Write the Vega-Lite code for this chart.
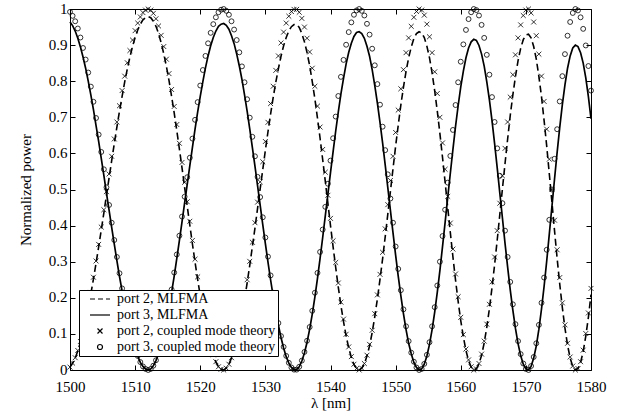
{
"$schema":"https://vega.github.io/schema/vega-lite/v6.json",
"width":521,"height":361,
"autosize":{"type":"none"},
"padding":{"left":70,"top":9,"right":33,"bottom":45},
"background":"white",
"config":{
"view":{"stroke":"black","strokeWidth":1},
"axis":{"domain":false,"grid":false,"tickColor":"black","tickSize":-5,"tickWidth":1,"labelFont":"Liberation Serif","labelFontSize":15,"labelColor":"black","titleFont":"Liberation Serif","titleFontSize":15,"titleFontWeight":"normal","titleColor":"black","labelFlush":false,"labelOverlap":false},
"legend":{"symbolSize":25,"symbolStrokeWidth":1.2,"labelFont":"Liberation Serif","labelFontSize":14,"labelColor":"black","fillColor":"white","strokeColor":"black","padding":2,"symbolOffset":12,"labelOffset":10,"labelLimit":400,"rowPadding":2}
},
"data":{"values":[
{"nm":1500.0,"m2":0.008,"m3":0.964,"c2":0.008,"c3":0.992},
{"nm":1500.4,"m2":0.019,"m3":0.954,"c2":0.019,"c3":0.981},
{"nm":1500.8,"m2":0.033,"m3":0.939,"c2":0.034,"c3":0.966},
{"nm":1501.2,"m2":0.053,"m3":0.919,"c2":0.054,"c3":0.946},
{"nm":1501.6,"m2":0.077,"m3":0.895,"c2":0.079,"c3":0.921},
{"nm":1502.0,"m2":0.106,"m3":0.867,"c2":0.108,"c3":0.892},
{"nm":1502.4,"m2":0.137,"m3":0.836,"c2":0.140,"c3":0.860},
{"nm":1502.8,"m2":0.172,"m3":0.800,"c2":0.176,"c3":0.824},
{"nm":1503.2,"m2":0.211,"m3":0.762,"c2":0.215,"c3":0.785},
{"nm":1503.6,"m2":0.252,"m3":0.721,"c2":0.257,"c3":0.743},
{"nm":1504.0,"m2":0.296,"m3":0.677,"c2":0.302,"c3":0.698},
{"nm":1504.4,"m2":0.341,"m3":0.633,"c2":0.348,"c3":0.652},
{"nm":1504.8,"m2":0.388,"m3":0.586,"c2":0.396,"c3":0.604},
{"nm":1505.2,"m2":0.435,"m3":0.539,"c2":0.444,"c3":0.556},
{"nm":1505.6,"m2":0.484,"m3":0.490,"c2":0.494,"c3":0.506},
{"nm":1506.0,"m2":0.532,"m3":0.443,"c2":0.543,"c3":0.457},
{"nm":1506.4,"m2":0.580,"m3":0.395,"c2":0.592,"c3":0.408},
{"nm":1506.8,"m2":0.627,"m3":0.349,"c2":0.640,"c3":0.360},
{"nm":1507.2,"m2":0.673,"m3":0.303,"c2":0.687,"c3":0.313},
{"nm":1507.6,"m2":0.717,"m3":0.259,"c2":0.732,"c3":0.268},
{"nm":1508.0,"m2":0.758,"m3":0.219,"c2":0.774,"c3":0.226},
{"nm":1508.4,"m2":0.798,"m3":0.180,"c2":0.814,"c3":0.186},
{"nm":1508.8,"m2":0.834,"m3":0.144,"c2":0.851,"c3":0.149},
{"nm":1509.2,"m2":0.867,"m3":0.111,"c2":0.885,"c3":0.115},
{"nm":1509.6,"m2":0.896,"m3":0.083,"c2":0.914,"c3":0.086},
{"nm":1510.0,"m2":0.921,"m3":0.058,"c2":0.940,"c3":0.060},
{"nm":1510.4,"m2":0.942,"m3":0.038,"c2":0.961,"c3":0.039},
{"nm":1510.8,"m2":0.958,"m3":0.021,"c2":0.978,"c3":0.022},
{"nm":1511.2,"m2":0.970,"m3":0.010,"c2":0.990,"c3":0.010},
{"nm":1511.6,"m2":0.976,"m3":0.003,"c2":0.997,"c3":0.003},
{"nm":1512.0,"m2":0.979,"m3":0.000,"c2":1.000,"c3":0.000},
{"nm":1512.4,"m2":0.976,"m3":0.003,"c2":0.997,"c3":0.003},
{"nm":1512.8,"m2":0.966,"m3":0.012,"c2":0.988,"c3":0.012},
{"nm":1513.2,"m2":0.952,"m3":0.026,"c2":0.973,"c3":0.027},
{"nm":1513.6,"m2":0.932,"m3":0.045,"c2":0.953,"c3":0.047},
{"nm":1514.0,"m2":0.906,"m3":0.070,"c2":0.927,"c3":0.073},
{"nm":1514.4,"m2":0.876,"m3":0.100,"c2":0.896,"c3":0.104},
{"nm":1514.8,"m2":0.841,"m3":0.134,"c2":0.861,"c3":0.139},
{"nm":1515.2,"m2":0.802,"m3":0.173,"c2":0.821,"c3":0.179},
{"nm":1515.6,"m2":0.758,"m3":0.215,"c2":0.777,"c3":0.223},
{"nm":1516.0,"m2":0.712,"m3":0.260,"c2":0.730,"c3":0.270},
{"nm":1516.4,"m2":0.663,"m3":0.309,"c2":0.680,"c3":0.320},
{"nm":1516.8,"m2":0.612,"m3":0.359,"c2":0.628,"c3":0.372},
{"nm":1517.2,"m2":0.560,"m3":0.410,"c2":0.575,"c3":0.425},
{"nm":1517.6,"m2":0.506,"m3":0.463,"c2":0.520,"c3":0.480},
{"nm":1518.0,"m2":0.454,"m3":0.514,"c2":0.466,"c3":0.534},
{"nm":1518.4,"m2":0.401,"m3":0.566,"c2":0.412,"c3":0.588},
{"nm":1518.8,"m2":0.349,"m3":0.617,"c2":0.359,"c3":0.641},
{"nm":1519.2,"m2":0.299,"m3":0.667,"c2":0.307,"c3":0.693},
{"nm":1519.6,"m2":0.251,"m3":0.714,"c2":0.258,"c3":0.742},
{"nm":1520.0,"m2":0.206,"m3":0.758,"c2":0.212,"c3":0.788},
{"nm":1520.4,"m2":0.164,"m3":0.799,"c2":0.169,"c3":0.831},
{"nm":1520.8,"m2":0.126,"m3":0.837,"c2":0.130,"c3":0.870},
{"nm":1521.2,"m2":0.092,"m3":0.870,"c2":0.095,"c3":0.905},
{"nm":1521.6,"m2":0.064,"m3":0.898,"c2":0.066,"c3":0.934},
{"nm":1522.0,"m2":0.041,"m3":0.921,"c2":0.042,"c3":0.958},
{"nm":1522.4,"m2":0.022,"m3":0.939,"c2":0.023,"c3":0.977},
{"nm":1522.8,"m2":0.009,"m3":0.952,"c2":0.009,"c3":0.991},
{"nm":1523.2,"m2":0.002,"m3":0.958,"c2":0.002,"c3":0.998},
{"nm":1523.6,"m2":0.000,"m3":0.960,"c2":0.000,"c3":1.000},
{"nm":1524.0,"m2":0.005,"m3":0.955,"c2":0.005,"c3":0.995},
{"nm":1524.4,"m2":0.016,"m3":0.944,"c2":0.016,"c3":0.984},
{"nm":1524.8,"m2":0.033,"m3":0.926,"c2":0.034,"c3":0.966},
{"nm":1525.2,"m2":0.055,"m3":0.904,"c2":0.057,"c3":0.943},
{"nm":1525.6,"m2":0.083,"m3":0.875,"c2":0.086,"c3":0.914},
{"nm":1526.0,"m2":0.116,"m3":0.842,"c2":0.120,"c3":0.880},
{"nm":1526.4,"m2":0.154,"m3":0.805,"c2":0.159,"c3":0.841},
{"nm":1526.8,"m2":0.196,"m3":0.762,"c2":0.203,"c3":0.797},
{"nm":1527.2,"m2":0.241,"m3":0.717,"c2":0.250,"c3":0.750},
{"nm":1527.6,"m2":0.290,"m3":0.668,"c2":0.301,"c3":0.699},
{"nm":1528.0,"m2":0.341,"m3":0.617,"c2":0.354,"c3":0.646},
{"nm":1528.4,"m2":0.393,"m3":0.565,"c2":0.408,"c3":0.592},
{"nm":1528.8,"m2":0.448,"m3":0.511,"c2":0.465,"c3":0.535},
{"nm":1529.2,"m2":0.502,"m3":0.457,"c2":0.521,"c3":0.479},
{"nm":1529.6,"m2":0.555,"m3":0.403,"c2":0.577,"c3":0.423},
{"nm":1530.0,"m2":0.609,"m3":0.350,"c2":0.633,"c3":0.367},
{"nm":1530.4,"m2":0.660,"m3":0.299,"c2":0.686,"c3":0.314},
{"nm":1530.8,"m2":0.709,"m3":0.250,"c2":0.738,"c3":0.262},
{"nm":1531.2,"m2":0.755,"m3":0.204,"c2":0.786,"c3":0.214},
{"nm":1531.6,"m2":0.797,"m3":0.162,"c2":0.830,"c3":0.170},
{"nm":1532.0,"m2":0.835,"m3":0.124,"c2":0.870,"c3":0.130},
{"nm":1532.4,"m2":0.869,"m3":0.090,"c2":0.906,"c3":0.094},
{"nm":1532.8,"m2":0.898,"m3":0.061,"c2":0.936,"c3":0.064},
{"nm":1533.2,"m2":0.921,"m3":0.037,"c2":0.961,"c3":0.039},
{"nm":1533.6,"m2":0.939,"m3":0.019,"c2":0.980,"c3":0.020},
{"nm":1534.0,"m2":0.951,"m3":0.007,"c2":0.993,"c3":0.007},
{"nm":1534.4,"m2":0.957,"m3":0.001,"c2":0.999,"c3":0.001},
{"nm":1534.8,"m2":0.957,"m3":0.001,"c2":0.999,"c3":0.001},
{"nm":1535.2,"m2":0.949,"m3":0.009,"c2":0.991,"c3":0.009},
{"nm":1535.6,"m2":0.932,"m3":0.025,"c2":0.974,"c3":0.026},
{"nm":1536.0,"m2":0.909,"m3":0.047,"c2":0.950,"c3":0.050},
{"nm":1536.4,"m2":0.879,"m3":0.077,"c2":0.919,"c3":0.081},
{"nm":1536.8,"m2":0.843,"m3":0.113,"c2":0.881,"c3":0.119},
{"nm":1537.2,"m2":0.799,"m3":0.155,"c2":0.836,"c3":0.164},
{"nm":1537.6,"m2":0.751,"m3":0.202,"c2":0.786,"c3":0.214},
{"nm":1538.0,"m2":0.698,"m3":0.254,"c2":0.731,"c3":0.269},
{"nm":1538.4,"m2":0.642,"m3":0.309,"c2":0.673,"c3":0.327},
{"nm":1538.8,"m2":0.583,"m3":0.367,"c2":0.611,"c3":0.389},
{"nm":1539.2,"m2":0.523,"m3":0.427,"c2":0.548,"c3":0.452},
{"nm":1539.6,"m2":0.462,"m3":0.487,"c2":0.484,"c3":0.516},
{"nm":1540.0,"m2":0.400,"m3":0.547,"c2":0.420,"c3":0.580},
{"nm":1540.4,"m2":0.341,"m3":0.605,"c2":0.358,"c3":0.642},
{"nm":1540.8,"m2":0.284,"m3":0.662,"c2":0.298,"c3":0.702},
{"nm":1541.2,"m2":0.229,"m3":0.715,"c2":0.241,"c3":0.759},
{"nm":1541.6,"m2":0.179,"m3":0.765,"c2":0.188,"c3":0.812},
{"nm":1542.0,"m2":0.134,"m3":0.808,"c2":0.141,"c3":0.859},
{"nm":1542.4,"m2":0.094,"m3":0.848,"c2":0.099,"c3":0.901},
{"nm":1542.8,"m2":0.061,"m3":0.880,"c2":0.064,"c3":0.936},
{"nm":1543.2,"m2":0.035,"m3":0.905,"c2":0.037,"c3":0.963},
{"nm":1543.6,"m2":0.015,"m3":0.924,"c2":0.016,"c3":0.984},
{"nm":1544.0,"m2":0.004,"m3":0.935,"c2":0.004,"c3":0.996},
{"nm":1544.4,"m2":0.000,"m3":0.937,"c2":0.000,"c3":1.000},
{"nm":1544.8,"m2":0.005,"m3":0.932,"c2":0.005,"c3":0.995},
{"nm":1545.2,"m2":0.017,"m3":0.919,"c2":0.018,"c3":0.982},
{"nm":1545.6,"m2":0.039,"m3":0.897,"c2":0.041,"c3":0.959},
{"nm":1546.0,"m2":0.067,"m3":0.869,"c2":0.071,"c3":0.929},
{"nm":1546.4,"m2":0.104,"m3":0.832,"c2":0.110,"c3":0.890},
{"nm":1546.8,"m2":0.148,"m3":0.788,"c2":0.156,"c3":0.844},
{"nm":1547.2,"m2":0.197,"m3":0.739,"c2":0.208,"c3":0.792},
{"nm":1547.6,"m2":0.251,"m3":0.686,"c2":0.265,"c3":0.735},
{"nm":1548.0,"m2":0.308,"m3":0.629,"c2":0.326,"c3":0.674},
{"nm":1548.4,"m2":0.369,"m3":0.568,"c2":0.391,"c3":0.609},
{"nm":1548.8,"m2":0.432,"m3":0.505,"c2":0.458,"c3":0.542},
{"nm":1549.2,"m2":0.495,"m3":0.442,"c2":0.525,"c3":0.475},
{"nm":1549.6,"m2":0.558,"m3":0.380,"c2":0.592,"c3":0.408},
{"nm":1550.0,"m2":0.620,"m3":0.318,"c2":0.658,"c3":0.342},
{"nm":1550.4,"m2":0.678,"m3":0.260,"c2":0.720,"c3":0.280},
{"nm":1550.8,"m2":0.734,"m3":0.206,"c2":0.779,"c3":0.221},
{"nm":1551.2,"m2":0.783,"m3":0.156,"c2":0.832,"c3":0.168},
{"nm":1551.6,"m2":0.827,"m3":0.112,"c2":0.879,"c3":0.121},
{"nm":1552.0,"m2":0.865,"m3":0.074,"c2":0.920,"c3":0.080},
{"nm":1552.4,"m2":0.895,"m3":0.045,"c2":0.952,"c3":0.048},
{"nm":1552.8,"m2":0.918,"m3":0.021,"c2":0.977,"c3":0.023},
{"nm":1553.2,"m2":0.932,"m3":0.007,"c2":0.993,"c3":0.007},
{"nm":1553.6,"m2":0.937,"m3":0.000,"c2":1.000,"c3":0.000},
{"nm":1554.0,"m2":0.934,"m3":0.003,"c2":0.997,"c3":0.003},
{"nm":1554.4,"m2":0.921,"m3":0.016,"c2":0.983,"c3":0.017},
{"nm":1554.8,"m2":0.897,"m3":0.039,"c2":0.958,"c3":0.042},
{"nm":1555.2,"m2":0.865,"m3":0.071,"c2":0.923,"c3":0.077},
{"nm":1555.6,"m2":0.823,"m3":0.112,"c2":0.879,"c3":0.121},
{"nm":1556.0,"m2":0.773,"m3":0.160,"c2":0.826,"c3":0.174},
{"nm":1556.4,"m2":0.717,"m3":0.216,"c2":0.766,"c3":0.234},
{"nm":1556.8,"m2":0.655,"m3":0.276,"c2":0.700,"c3":0.300},
{"nm":1557.2,"m2":0.589,"m3":0.342,"c2":0.629,"c3":0.371},
{"nm":1557.6,"m2":0.520,"m3":0.409,"c2":0.556,"c3":0.444},
{"nm":1558.0,"m2":0.450,"m3":0.478,"c2":0.481,"c3":0.519},
{"nm":1558.4,"m2":0.381,"m3":0.545,"c2":0.407,"c3":0.593},
{"nm":1558.8,"m2":0.313,"m3":0.611,"c2":0.335,"c3":0.665},
{"nm":1559.2,"m2":0.249,"m3":0.675,"c2":0.266,"c3":0.734},
{"nm":1559.6,"m2":0.190,"m3":0.732,"c2":0.203,"c3":0.797},
{"nm":1560.0,"m2":0.137,"m3":0.784,"c2":0.146,"c3":0.854},
{"nm":1560.4,"m2":0.092,"m3":0.828,"c2":0.098,"c3":0.902},
{"nm":1560.8,"m2":0.054,"m3":0.865,"c2":0.058,"c3":0.942},
{"nm":1561.2,"m2":0.026,"m3":0.892,"c2":0.028,"c3":0.972},
{"nm":1561.6,"m2":0.008,"m3":0.909,"c2":0.009,"c3":0.991},
{"nm":1562.0,"m2":0.000,"m3":0.916,"c2":0.000,"c3":1.000},
{"nm":1562.4,"m2":0.003,"m3":0.913,"c2":0.003,"c3":0.997},
{"nm":1562.8,"m2":0.017,"m3":0.899,"c2":0.018,"c3":0.982},
{"nm":1563.2,"m2":0.041,"m3":0.875,"c2":0.044,"c3":0.956},
{"nm":1563.6,"m2":0.075,"m3":0.842,"c2":0.080,"c3":0.920},
{"nm":1564.0,"m2":0.119,"m3":0.798,"c2":0.127,"c3":0.873},
{"nm":1564.4,"m2":0.170,"m3":0.748,"c2":0.182,"c3":0.818},
{"nm":1564.8,"m2":0.228,"m3":0.691,"c2":0.244,"c3":0.756},
{"nm":1565.2,"m2":0.292,"m3":0.627,"c2":0.313,"c3":0.687},
{"nm":1565.6,"m2":0.360,"m3":0.560,"c2":0.386,"c3":0.614},
{"nm":1566.0,"m2":0.431,"m3":0.490,"c2":0.462,"c3":0.538},
{"nm":1566.4,"m2":0.502,"m3":0.421,"c2":0.538,"c3":0.462},
{"nm":1566.8,"m2":0.572,"m3":0.351,"c2":0.614,"c3":0.386},
{"nm":1567.2,"m2":0.640,"m3":0.285,"c2":0.687,"c3":0.313},
{"nm":1567.6,"m2":0.705,"m3":0.222,"c2":0.756,"c3":0.244},
{"nm":1568.0,"m2":0.762,"m3":0.166,"c2":0.818,"c3":0.182},
{"nm":1568.4,"m2":0.813,"m3":0.115,"c2":0.873,"c3":0.127},
{"nm":1568.8,"m2":0.857,"m3":0.073,"c2":0.920,"c3":0.080},
{"nm":1569.2,"m2":0.891,"m3":0.040,"c2":0.956,"c3":0.044},
{"nm":1569.6,"m2":0.915,"m3":0.016,"c2":0.982,"c3":0.018},
{"nm":1570.0,"m2":0.928,"m3":0.003,"c2":0.997,"c3":0.003},
{"nm":1570.4,"m2":0.930,"m3":0.000,"c2":1.000,"c3":0.000},
{"nm":1570.8,"m2":0.920,"m3":0.010,"c2":0.989,"c3":0.011},
{"nm":1571.2,"m2":0.896,"m3":0.033,"c2":0.964,"c3":0.036},
{"nm":1571.6,"m2":0.861,"m3":0.067,"c2":0.926,"c3":0.074},
{"nm":1572.0,"m2":0.813,"m3":0.113,"c2":0.875,"c3":0.125},
{"nm":1572.4,"m2":0.757,"m3":0.169,"c2":0.814,"c3":0.186},
{"nm":1572.8,"m2":0.691,"m3":0.232,"c2":0.744,"c3":0.256},
{"nm":1573.2,"m2":0.620,"m3":0.302,"c2":0.667,"c3":0.333},
{"nm":1573.6,"m2":0.543,"m3":0.377,"c2":0.584,"c3":0.416},
{"nm":1574.0,"m2":0.465,"m3":0.453,"c2":0.500,"c3":0.500},
{"nm":1574.4,"m2":0.386,"m3":0.529,"c2":0.415,"c3":0.585},
{"nm":1574.8,"m2":0.309,"m3":0.603,"c2":0.333,"c3":0.667},
{"nm":1575.2,"m2":0.238,"m3":0.672,"c2":0.256,"c3":0.744},
{"nm":1575.6,"m2":0.173,"m3":0.735,"c2":0.186,"c3":0.814},
{"nm":1576.0,"m2":0.116,"m3":0.790,"c2":0.125,"c3":0.875},
{"nm":1576.4,"m2":0.069,"m3":0.836,"c2":0.074,"c3":0.926},
{"nm":1576.8,"m2":0.033,"m3":0.870,"c2":0.036,"c3":0.964},
{"nm":1577.2,"m2":0.010,"m3":0.892,"c2":0.011,"c3":0.989},
{"nm":1577.6,"m2":0.000,"m3":0.900,"c2":0.000,"c3":1.000},
{"nm":1578.0,"m2":0.004,"m3":0.896,"c2":0.004,"c3":0.996},
{"nm":1578.4,"m2":0.021,"m3":0.879,"c2":0.023,"c3":0.977},
{"nm":1578.8,"m2":0.051,"m3":0.850,"c2":0.055,"c3":0.945},
{"nm":1579.2,"m2":0.094,"m3":0.809,"c2":0.101,"c3":0.899},
{"nm":1579.6,"m2":0.146,"m3":0.757,"c2":0.158,"c3":0.842},
{"nm":1580.0,"m2":0.209,"m3":0.696,"c2":0.226,"c3":0.774}
]},
"resolve":{"axis":{"x":"independent","y":"independent"}},
"layer":[
{"mark":{"type":"line","color":"black","strokeWidth":1.6,"strokeDash":[7,4]},
"encoding":{
"x":{"field":"nm","type":"quantitative","scale":{"domain":[1500,1580],"nice":false,"zero":false},"axis":{"orient":"bottom","values":[1500,1510,1520,1530,1540,1550,1560,1570,1580],"format":"d","title":"λ [nm]","labelPadding":14,"titlePadding":1}},
"y":{"field":"m2","type":"quantitative","scale":{"domain":[0,1],"nice":false},"axis":{"orient":"left","values":[0,0.1,0.2,0.3,0.4,0.5,0.6,0.7,0.8,0.9,1],"format":"~g","title":"Normalized power","labelPadding":8,"titlePadding":15,"labelOffset":-1}}
}},
{"mark":{"type":"line","color":"black","strokeWidth":1.7},
"encoding":{
"x":{"field":"nm","type":"quantitative","axis":{"orient":"top","values":[1500,1510,1520,1530,1540,1550,1560,1570,1580],"labels":false,"title":null}},
"y":{"field":"m3","type":"quantitative","axis":{"orient":"right","values":[0,0.1,0.2,0.3,0.4,0.5,0.6,0.7,0.8,0.9,1],"labels":false,"title":null}}
}},
{"mark":{"type":"point","color":"black","filled":false,"size":24,"strokeWidth":0.8,"opacity":1},
"encoding":{
"x":{"field":"nm","type":"quantitative","axis":null},
"y":{"field":"c2","type":"quantitative","axis":null},
"shape":{"datum":"port 2, coupled mode theory","scale":{"domain":["port 2, MLFMA","port 3, MLFMA","port 2, coupled mode theory","port 3, coupled mode theory"],"range":["M-4,0H-2M-0.8,0H1.2M2.4,0H4","M-4,0H4","M-1,-1L1,1M-1,1L1,-1","circle"]},"legend":{"title":null,"orient":"none","legendX":9,"legendY":281}}
}},
{"mark":{"type":"point","color":"black","filled":false,"size":24,"strokeWidth":0.8,"opacity":1},
"encoding":{
"x":{"field":"nm","type":"quantitative","axis":null},
"y":{"field":"c3","type":"quantitative","axis":null},
"shape":{"datum":"port 3, coupled mode theory","scale":{"domain":["port 2, MLFMA","port 3, MLFMA","port 2, coupled mode theory","port 3, coupled mode theory"],"range":["M-4,0H-2M-0.8,0H1.2M2.4,0H4","M-4,0H4","M-1,-1L1,1M-1,1L1,-1","circle"]}}
}}
]
}
